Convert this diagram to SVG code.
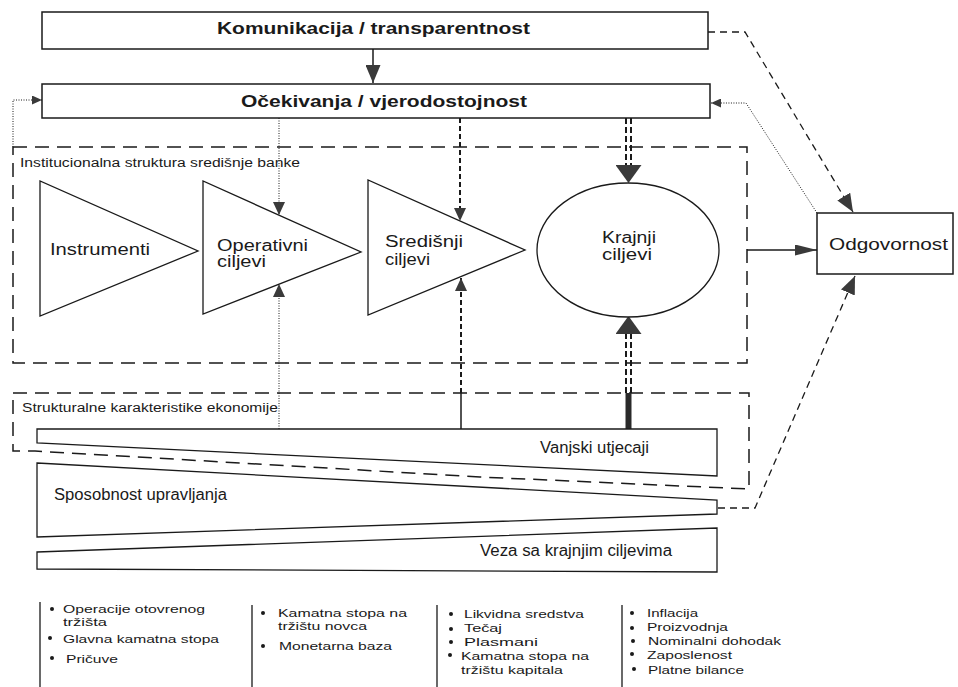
<svg xmlns="http://www.w3.org/2000/svg" width="958" height="687" viewBox="0 0 958 687">
<style>
text{font-family:"Liberation Sans",Arial,sans-serif;fill:#1a1a1a}
.b{font-weight:bold;font-size:16px}
.n{font-size:16px}
.s{font-size:12px}
.l{font-size:11.5px}
.box{fill:#fff;stroke:#1a1a1a;stroke-width:1.5}
.shape{fill:#fff;stroke:#1a1a1a;stroke-width:1.3}
.grp{fill:none;stroke:#1a1a1a;stroke-width:1.5;stroke-dasharray:14 8}
.solid{fill:none;stroke:#1a1a1a;stroke-width:1.5}
.dot{fill:none;stroke:#1a1a1a;stroke-width:1;stroke-dasharray:1 1.5}
.dash{fill:none;stroke:#1a1a1a;stroke-width:2;stroke-dasharray:5 3}
.dash2{fill:none;stroke:#1a1a1a;stroke-width:1.3;stroke-dasharray:7 5}
.dd{fill:none;stroke:#1a1a1a;stroke-width:2;stroke-dasharray:6 3}
.bullet{fill:#1a1a1a}
.col{stroke:#1a1a1a;stroke-width:1.3}
</style>
<defs>
<marker id="mBig" viewBox="0 0 10 10" refX="10" refY="5" markerUnits="userSpaceOnUse" markerWidth="18" markerHeight="26" preserveAspectRatio="none" orient="auto"><path d="M0,0L10,5L0,10z" fill="#3a3a3a"/></marker>
<marker id="mMed" viewBox="0 0 10 10" refX="10" refY="5" markerUnits="userSpaceOnUse" markerWidth="18" markerHeight="15" preserveAspectRatio="none" orient="auto"><path d="M0,0L10,5L0,10z" fill="#3a3a3a"/></marker>
<marker id="mLong" viewBox="0 0 10 10" refX="10" refY="5" markerUnits="userSpaceOnUse" markerWidth="22" markerHeight="11" preserveAspectRatio="none" orient="auto"><path d="M0,0L10,5L0,10z" fill="#3a3a3a"/></marker>
<marker id="mSm" viewBox="0 0 10 10" refX="10" refY="5" markerUnits="userSpaceOnUse" markerWidth="13" markerHeight="12" preserveAspectRatio="none" orient="auto"><path d="M0,0L10,5L0,10z" fill="#3a3a3a"/></marker>
<marker id="mTiny" viewBox="0 0 10 10" refX="10" refY="5" markerUnits="userSpaceOnUse" markerWidth="10" markerHeight="9" preserveAspectRatio="none" orient="auto"><path d="M0,0L10,5L0,10z" fill="#3a3a3a"/></marker>
</defs>
<rect width="958" height="687" fill="#fff"/>

<g id="grp-institucionalna">
<rect class="grp" x="13" y="147" width="734" height="216"/>
<text class="s" x="20" y="167" textLength="280" lengthAdjust="spacingAndGlyphs">Institucionalna struktura središnje banke</text>
</g>
<g id="grp-strukturalne">
<path class="grp" d="M13,393 H749 V489 L480,477 L35,451 H13 Z"/>
<text class="s" x="22" y="412" textLength="256" lengthAdjust="spacingAndGlyphs">Strukturalne karakteristike ekonomije</text>
</g>

<g id="connectors">
<path class="solid" d="M373,49 V83" marker-end="url(#mMed)"/>
<path class="dot" d="M13,147 V100 H42" marker-end="url(#mTiny)"/>
<path class="dot" d="M279,118 V215" marker-end="url(#mSm)"/>
<path class="dash" d="M460,118 V221" marker-end="url(#mSm)"/>
<path class="dd" d="M626,118 V166"/>
<path class="dd" d="M631,118 V166"/>
<path d="M628.5,160 V183" fill="none" stroke="none" marker-end="url(#mBig)"/>
<path class="dot" d="M279,429 V284" marker-end="url(#mSm)"/>
<path class="solid" d="M461,429 V393"/>
<path class="dash" d="M461,393 V278" marker-end="url(#mSm)"/>
<path d="M628.5,429 V393" fill="none" stroke="#2a2a2a" stroke-width="6"/>
<path class="dd" d="M626,393 V333"/>
<path class="dd" d="M631,393 V333"/>
<path d="M628.5,340 V316" fill="none" stroke="none" marker-end="url(#mBig)"/>
<path class="solid" d="M747,250 H817" marker-end="url(#mLong)"/>
<path class="dash2" d="M708,32 H745 L853,212" marker-end="url(#mMed)"/>
<path class="dot" d="M817,213 L746,103 H711" marker-end="url(#mTiny)"/>
<path class="dash2" d="M718,508 H755 L855,276" marker-end="url(#mMed)"/>
</g>

<g id="komunikacija">
<rect class="box" x="42" y="12" width="666" height="37"/>
<text class="b" x="217" y="34" textLength="313" lengthAdjust="spacingAndGlyphs">Komunikacija / transparentnost</text>
</g>
<g id="ocekivanja">
<rect class="box" x="42" y="84" width="668" height="34"/>
<text class="b" x="241" y="107" textLength="286" lengthAdjust="spacingAndGlyphs">Očekivanja / vjerodostojnost</text>
</g>
<g id="instrumenti">
<polygon class="shape" points="40,181 40,316 198,251"/>
<text class="n" x="50" y="255" textLength="100" lengthAdjust="spacingAndGlyphs">Instrumenti</text>
</g>
<g id="operativni">
<polygon class="shape" points="203,181 203,314 361,252"/>
<text class="n" x="217" y="251" textLength="91" lengthAdjust="spacingAndGlyphs">Operativni</text>
<text class="n" x="217" y="267" textLength="49" lengthAdjust="spacingAndGlyphs">ciljevi</text>
</g>
<g id="sredisnji">
<polygon class="shape" points="368,180 368,315 525,250"/>
<text class="n" x="385" y="247" textLength="78" lengthAdjust="spacingAndGlyphs">Središnji</text>
<text class="n" x="385" y="265" textLength="45" lengthAdjust="spacingAndGlyphs">ciljevi</text>
</g>
<g id="krajnji">
<ellipse class="shape" cx="628" cy="250" rx="91" ry="67"/>
<text class="n" x="602" y="243" textLength="54" lengthAdjust="spacingAndGlyphs">Krajnji</text>
<text class="n" x="602" y="260" textLength="50" lengthAdjust="spacingAndGlyphs">ciljevi</text>
</g>
<g id="odgovornost">
<rect class="box" x="817" y="213" width="136" height="61"/>
<text class="n" x="829" y="250" textLength="119" lengthAdjust="spacingAndGlyphs">Odgovornost</text>
</g>
<g id="vanjski">
<polygon class="shape" points="37,429 717,429 717,476 37,443"/>
<text class="n" x="540" y="453" textLength="109" lengthAdjust="spacingAndGlyphs">Vanjski utjecaji</text>
</g>
<g id="sposobnost">
<polygon class="shape" points="37,463 717,500 717,514 37,537"/>
<text class="n" x="54" y="500" textLength="173" lengthAdjust="spacingAndGlyphs">Sposobnost upravljanja</text>
</g>
<g id="veza">
<polygon class="shape" points="37,552 717,528 717,572 37,569"/>
<text class="n" x="480" y="556" textLength="192" lengthAdjust="spacingAndGlyphs">Veza sa krajnjim ciljevima</text>
</g>

<g id="lista-instrumenti">
<line class="col" x1="40" y1="602" x2="40" y2="687"/>
<circle class="bullet" cx="52" cy="609" r="2"/>
<text class="l" x="63" y="613" textLength="142" lengthAdjust="spacingAndGlyphs">Operacije otovrenog</text>
<text class="l" x="63" y="626" textLength="44" lengthAdjust="spacingAndGlyphs">tržišta</text>
<circle class="bullet" cx="50" cy="638" r="2"/>
<text class="l" x="63" y="643" textLength="156" lengthAdjust="spacingAndGlyphs">Glavna kamatna stopa</text>
<circle class="bullet" cx="52" cy="658" r="2"/>
<text class="l" x="66" y="663" textLength="52" lengthAdjust="spacingAndGlyphs">Pričuve</text>
</g>
<g id="lista-operativni">
<line class="col" x1="252" y1="605" x2="252" y2="687"/>
<circle class="bullet" cx="263" cy="613" r="2"/>
<text class="l" x="278" y="617" textLength="129" lengthAdjust="spacingAndGlyphs">Kamatna stopa na</text>
<text class="l" x="278" y="630" textLength="89" lengthAdjust="spacingAndGlyphs">tržištu novca</text>
<circle class="bullet" cx="263" cy="646" r="2"/>
<text class="l" x="279" y="650" textLength="113" lengthAdjust="spacingAndGlyphs">Monetarna baza</text>
</g>
<g id="lista-sredisnji">
<line class="col" x1="437" y1="605" x2="437" y2="687"/>
<circle class="bullet" cx="451" cy="614" r="2"/>
<text class="l" x="464" y="618" textLength="120" lengthAdjust="spacingAndGlyphs">Likvidna sredstva</text>
<circle class="bullet" cx="451" cy="629" r="2"/>
<text class="l" x="464" y="632" textLength="38" lengthAdjust="spacingAndGlyphs">Tečaj</text>
<circle class="bullet" cx="451" cy="642" r="2"/>
<text class="l" x="464" y="646" textLength="74" lengthAdjust="spacingAndGlyphs">Plasmani</text>
<circle class="bullet" cx="450" cy="655" r="2"/>
<text class="l" x="461" y="660" textLength="128" lengthAdjust="spacingAndGlyphs">Kamatna stopa na</text>
<text class="l" x="461" y="674" textLength="102" lengthAdjust="spacingAndGlyphs">tržištu kapitala</text>
</g>
<g id="lista-krajnji">
<line class="col" x1="622" y1="605" x2="622" y2="687"/>
<circle class="bullet" cx="632" cy="613" r="2"/>
<text class="l" x="647" y="617" textLength="51" lengthAdjust="spacingAndGlyphs">Inflacija</text>
<circle class="bullet" cx="632" cy="628" r="2"/>
<text class="l" x="647" y="631" textLength="81" lengthAdjust="spacingAndGlyphs">Proizvodnja</text>
<circle class="bullet" cx="633" cy="641" r="2"/>
<text class="l" x="648" y="645" textLength="133" lengthAdjust="spacingAndGlyphs">Nominalni dohodak</text>
<circle class="bullet" cx="632" cy="654" r="2"/>
<text class="l" x="647" y="659" textLength="85" lengthAdjust="spacingAndGlyphs">Zaposlenost</text>
<circle class="bullet" cx="634" cy="669" r="2"/>
<text class="l" x="648" y="674" textLength="96" lengthAdjust="spacingAndGlyphs">Platne bilance</text>
</g>
</svg>
